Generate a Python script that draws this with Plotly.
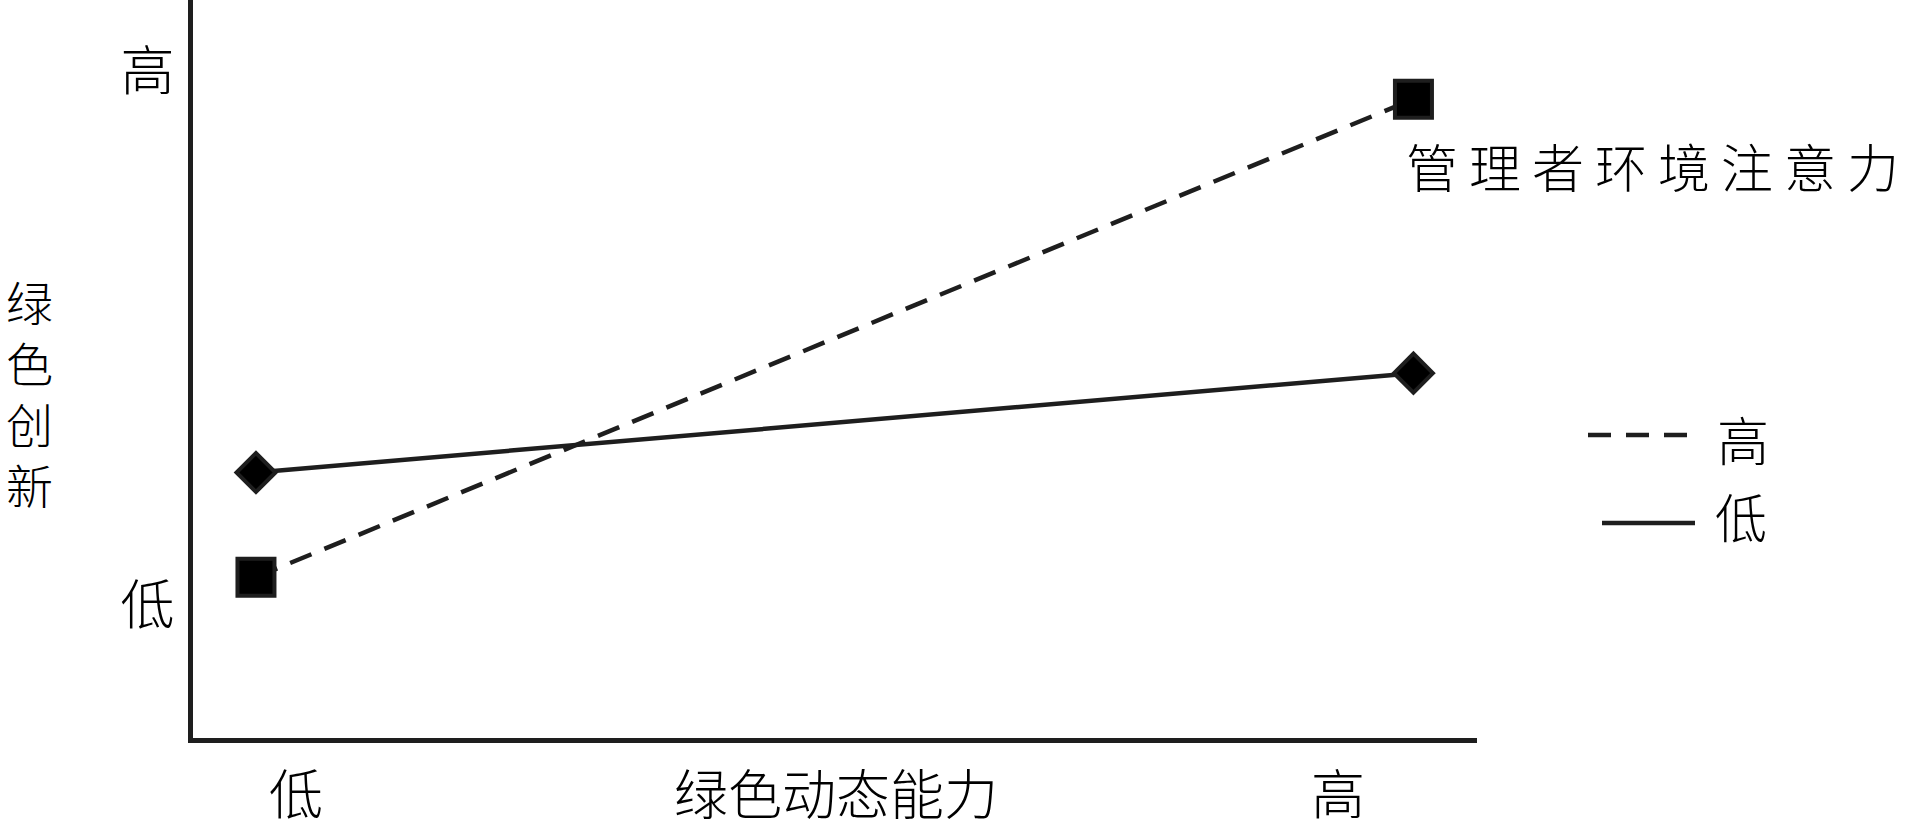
import plotly.graph_objects as go

# ---- data ----
x_levels = [0, 1]                      # 绿色动态能力: 低, 高
x_labels = ["低", "高"]
y_tick_vals = [0, 1]
y_tick_text = ["低", "高"]
high_attention = [0.054, 0.949]       # 管理者环境注意力 = 高 (dashed, squares)
low_attention = [0.250, 0.436]        # 管理者环境注意力 = 低 (solid, diamonds)
series_names = ["高", "低"]
legend_title = "管理者环境注意力"
x_title = "绿色动态能力"
y_title = "绿色创新"

FONT = "Noto Sans CJK SC, Noto Sans CJK JP, sans-serif"
INK = "#1e1e1e"

fig = go.Figure()
fig.add_trace(go.Scatter(
    x=x_levels, y=high_attention, mode="lines+markers", name=series_names[0],
    line=dict(color=INK, width=4.5, dash="23px,14px"),
    marker=dict(symbol="square", size=37, color="#000000", line=dict(color=INK, width=4)),
    showlegend=False, cliponaxis=False))
fig.add_trace(go.Scatter(
    x=x_levels, y=low_attention, mode="lines+markers", name=series_names[1],
    line=dict(color=INK, width=4.5),
    marker=dict(symbol="diamond", size=30, color="#000000", line=dict(color=INK, width=4)),
    showlegend=False, cliponaxis=False))

L, R, T, B = 193, 429, 0, 89
W, H = 1906, 827
pw, ph = W - L - R, H - T - B

def px(xp):
    return (xp - L) / pw

def py(yp):
    return (H - B - yp) / ph

fig.update_layout(
    width=W, height=H,
    margin=dict(l=L, r=R, t=T, b=B, pad=0),
    paper_bgcolor="white", plot_bgcolor="white",
    font=dict(family=FONT, color="#000000", size=52),
    showlegend=False,
    xaxis=dict(range=[-0.0544, 1.0549], showgrid=False, zeroline=False,
               showline=True, linecolor=INK, linewidth=4.5,
               showticklabels=False, ticks=""),
    yaxis=dict(range=[-0.2472, 1.1348], showgrid=False, zeroline=False,
               showline=True, linecolor=INK, linewidth=4.5,
               tickmode="array", tickvals=y_tick_vals, ticktext=y_tick_text,
               ticks="", ticklabelstandoff=3,
               tickfont=dict(family=FONT, size=54, color="#000000", weight=300)),
)

annots = [
    dict(text=x_labels[0], x=px(296), y=py(791), size=54),
    dict(text=x_title, x=px(836), y=py(791), size=54),
    dict(text=x_labels[1], x=px(1338), y=py(791), size=54),
    dict(text="<br>".join(list(y_title)), x=px(29), y=py(392), size=47),
]
for a in annots:
    fig.add_annotation(text=a["text"], x=a["x"], y=a["y"], xref="paper", yref="paper",
                       xanchor="center", yanchor="middle", showarrow=False,
                       font=dict(family=FONT, size=a["size"], color="#000000", weight=300))

# legend (drawn manually)
fig.add_annotation(text='<span style="letter-spacing:11px">' + legend_title + '</span>',
                   x=px(1404), y=py(165), xref="paper", yref="paper",
                   xanchor="left", yanchor="middle", showarrow=False,
                   font=dict(family=FONT, size=52, color="#000000", weight=300))
fig.add_annotation(text=series_names[0], x=px(1715), y=py(438), xref="paper", yref="paper",
                   xanchor="left", yanchor="middle", showarrow=False,
                   font=dict(family=FONT, size=52, color="#000000", weight=300))
fig.add_annotation(text=series_names[1], x=px(1713), y=py(515), xref="paper", yref="paper",
                   xanchor="left", yanchor="middle", showarrow=False,
                   font=dict(family=FONT, size=52, color="#000000", weight=300))
fig.add_shape(type="line", xref="paper", yref="paper",
              x0=px(1588), x1=px(1687), y0=py(435), y1=py(435),
              line=dict(color=INK, width=4.5, dash="23px,15px"))
fig.add_shape(type="line", xref="paper", yref="paper",
              x0=px(1602), x1=px(1695), y0=py(523), y1=py(523),
              line=dict(color=INK, width=4.5))

fig.write_html("out.html", config={"displayModeBar": False},
               post_script="document.body.style.margin='0';document.body.style.overflow='hidden';")
